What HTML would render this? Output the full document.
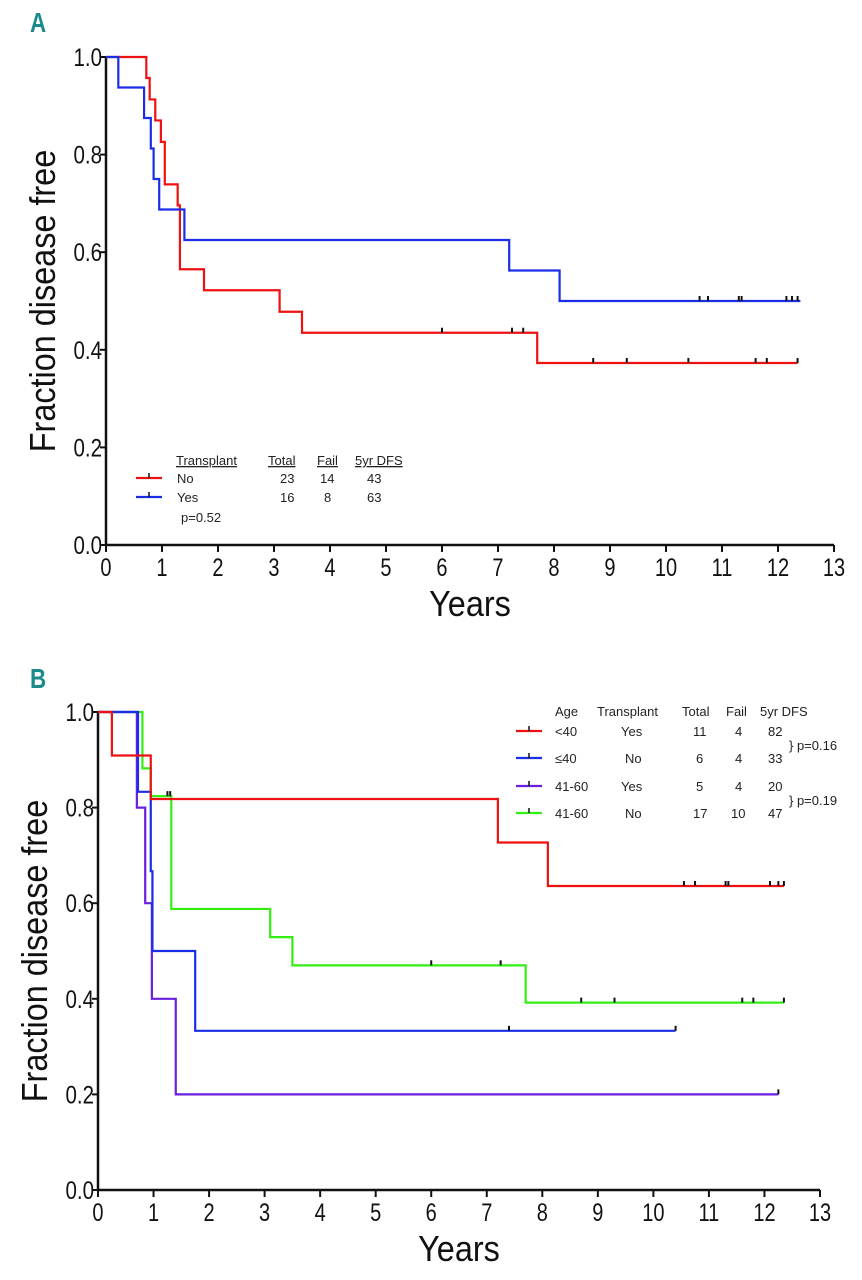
<!DOCTYPE html>
<html><head><meta charset="utf-8">
<style>
html,body{margin:0;padding:0;background:#fff;}
svg{display:block;font-family:"Liberation Sans",sans-serif;}
.tk{font-size:25px;fill:#111;}
.ttl{font-size:36px;fill:#111;}
.lg{font-size:13px;fill:#222;}
</style></head>
<body>
<svg id="chart" width="862" height="1280" viewBox="0 0 862 1280"></svg>
<script>
// ---------- Panel A data ----------
const aNoTimes = [0.72, 0.78, 0.88, 0.98, 1.05, 1.28, 1.32, 1.75, 3.1, 3.5, 7.7, 12.35];
const aNoSurv  = [0.957, 0.913, 0.87, 0.826, 0.739, 0.696, 0.565, 0.522, 0.478, 0.435, 0.373, 0.373];
const aNoCens  = [6.0, 7.25, 7.45, 8.7, 9.3, 10.4, 11.6, 11.8, 12.35];
const aYesTimes = [0.22, 0.68, 0.8, 0.85, 0.95, 1.4, 7.2, 8.1, 12.4];
const aYesSurv  = [0.9375, 0.875, 0.8125, 0.75, 0.6875, 0.625, 0.5625, 0.5, 0.5];
const aYesCens  = [10.6, 10.75, 11.3, 11.35, 12.15, 12.25, 12.35];
// ---------- Panel B data ----------
const bRedTimes = [0.25, 0.95, 7.2, 8.1, 12.35];
const bRedSurv  = [0.909, 0.818, 0.727, 0.636, 0.636];
const bRedCens  = [10.55, 10.75, 11.3, 11.35, 12.1, 12.25, 12.35];
const bBlueTimes = [0.72, 0.95, 0.98, 1.75, 10.4];
const bBlueSurv  = [0.833, 0.667, 0.5, 0.333, 0.333];
const bBlueCens  = [7.4, 10.4];
const bPurTimes = [0.7, 0.85, 0.97, 1.4, 12.25];
const bPurSurv  = [0.8, 0.6, 0.4, 0.2, 0.2];
const bPurCens  = [12.25];
const bGrnTimes = [0.8, 0.95, 1.32, 3.1, 3.5, 7.7, 12.35];
const bGrnSurv  = [0.882, 0.824, 0.588, 0.529, 0.47, 0.392, 0.392];
const bGrnCens  = [1.25, 1.3, 6.0, 7.25, 8.7, 9.3, 11.6, 11.8, 12.35];
const xTicks = [0,1,2,3,4,5,6,7,8,9,10,11,12,13];
const yTicks = ["0.0","0.2","0.4","0.6","0.8","1.0"];

const NS="http://www.w3.org/2000/svg";
const svg=document.getElementById('chart');
function mk(tag,attrs,parent){const e=document.createElementNS(NS,tag);for(const k in attrs)e.setAttribute(k,attrs[k]);(parent||svg).appendChild(e);return e;}

function panel(id, x0, x13, y0, y1, label, labelY){
  const g=mk('g',{});
  
  
  const sx=t=>x0+(x13-x0)*t/13;
  const sy=v=>y0+(y1-y0)*v;
  const ax=mk('line',{x1:x0,y1:y0,x2:x13,y2:y0,stroke:'#111','stroke-width':2.5},g);
  
  
  const ay=mk('line',{x1:x0,y1:y0+1,x2:x0,y2:y1,stroke:'#111','stroke-width':2.5},g);
  
  
  xTicks.forEach(t=>{
    mk('line',{x1:sx(t),y1:y0,x2:sx(t),y2:y0+7,stroke:'#111','stroke-width':2},g);
    const tx=mk('text',{x:sx(t),y:y0+31,'text-anchor':'middle',class:'tk',transform:`translate(${sx(t)},0) scale(0.8,1) translate(${-sx(t)},0)`},g);
    tx.textContent=t;
    
    
  });
  yTicks.forEach((s,i)=>{
    const v=i*0.2, y=sy(v);
    mk('line',{x1:x0-6,y1:y,x2:x0,y2:y,stroke:'#111','stroke-width':2},g);
    const tx=mk('text',{x:x0-4,y:y+9,'text-anchor':'end',class:'tk',transform:`translate(${x0-4},0) scale(0.82,1) translate(${-(x0-4)},0)`},g);
    tx.textContent=s;
    
    
  });
  const xt=mk('text',{x:(x0+x13)/2,y:y0+71,'text-anchor':'middle',class:'ttl',transform:`translate(${(x0+x13)/2},0) scale(0.9,1) translate(${-(x0+x13)/2},0)`},g);
  xt.textContent='Years';
  
  
  const yc=(y0+y1)/2;
  const yt=mk('text',{x:0,y:0,'text-anchor':'middle',class:'ttl',transform:`translate(${x0-51},${yc}) rotate(-90) scale(0.9,1)`},g);
  yt.textContent='Fraction disease free';
  
  
  const pl=mk('text',{x:30,y:labelY,'font-size':28,'font-weight':'bold',fill:'#1a8a8a',transform:`translate(30,0) scale(0.8,1) translate(-30,0)`},g);
  pl.textContent=label;
  
  
  return {g,sx,sy};
}

function curve(P,times,surv,cens,color,name){
  let d=`M${P.sx(0)},${P.sy(1)}`;
  times.forEach((t,i)=>{d+=` H${P.sx(t)} V${P.sy(surv[i])}`;});
  const p=mk('path',{d,fill:'none',stroke:color,'stroke-width':2.2},P.g);
  
  
  cens.forEach(c=>{
    let v=1;for(let i=0;i<times.length;i++){if(times[i]<=c && i<times.length-1)v=surv[i];}
    if(c>=times[times.length-1]) v=surv[surv.length-1];
    const m=mk('line',{x1:P.sx(c),y1:P.sy(v)-5,x2:P.sx(c),y2:P.sy(v),stroke:'#111','stroke-width':2},P.g);
    
    
  });
}

function txt(g,x,y,s,cls,extra){const t=mk('text',Object.assign({x,y,class:cls},extra||{}),g);t.textContent=s;return t;}
function legLine(g,x,y,color,name){
  const l=mk('line',{x1:x,y1:y,x2:x+26,y2:y,stroke:color,'stroke-width':2.2},g);
  
  
  mk('line',{x1:x+13,y1:y-5,x2:x+13,y2:y,stroke:'#111','stroke-width':1.5},g);
}

// Panel A
const A=panel('a',106,834,545,57,'A',32);
curve(A,aNoTimes,aNoSurv,aNoCens,'#ee1111','curve-no-transplant');
curve(A,aYesTimes,aYesSurv,aYesCens,'#1a2ee8','curve-yes-transplant');
const la=mk('g',{},A.g);


[['Transplant',176],['Total',268],['Fail',317],['5yr DFS',355]].forEach(([s,x])=>{
  txt(la,x,465,s,'lg',{'text-decoration':'underline'});
});
legLine(la,136,478,'#ee1111','legend-entry-no');
legLine(la,136,497,'#1a2ee8','legend-entry-yes');
txt(la,177,483,'No','lg');txt(la,280,483,'23','lg');txt(la,320,483,'14','lg');txt(la,367,483,'43','lg');
txt(la,177,502,'Yes','lg');txt(la,280,502,'16','lg');txt(la,324,502,'8','lg');txt(la,367,502,'63','lg');
txt(la,181,522,'p=0.52','lg');

// Panel B
const B=panel('b',98,820,1190,712,'B',688);
curve(B,bGrnTimes,bGrnSurv,bGrnCens,'#33ee11','curve-41-60-no');
curve(B,bPurTimes,bPurSurv,bPurCens,'#6a1fe0','curve-41-60-yes');
curve(B,bBlueTimes,bBlueSurv,bBlueCens,'#1a2ee8','curve-under40-no');
curve(B,bRedTimes,bRedSurv,bRedCens,'#ee1111','curve-under40-yes');
const lb=mk('g',{},B.g);


[['Age',555],['Transplant',597],['Total',682],['Fail',726],['5yr DFS',760]].forEach(([s,x])=>txt(lb,x,716,s,'lg'));
const rows=[['<40','Yes','11','4','82','#ee1111',736],['≤40','No','6','4','33','#1a2ee8',763],['41-60','Yes','5','4','20','#6a1fe0',791],['41-60','No','17','10','47','#33ee11',818]];
rows.forEach(r=>{
  legLine(lb,516,r[6]-5,r[5],'legend-entry');
  txt(lb,555,r[6],r[0],'lg');txt(lb,r[1]=='Yes'?621:625,r[6],r[1],'lg');
  txt(lb,r[2].length>1?693:696,r[6],r[2],'lg');txt(lb,r[3].length>1?731:735,r[6],r[3],'lg');txt(lb,768,r[6],r[4],'lg');
});
txt(lb,789,750,'} p=0.16','lg');
txt(lb,789,805,'} p=0.19','lg');
</script>
</body></html>
